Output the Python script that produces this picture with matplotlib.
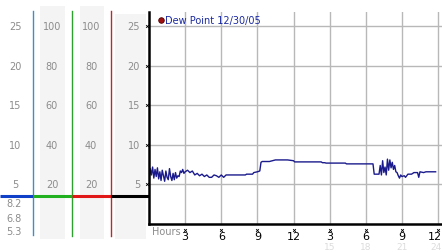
import matplotlib
matplotlib.use('Agg')
import matplotlib.pyplot as plt
import matplotlib.transforms as mtransforms

# dew point trace (hours since midnight, deg)
hours = [0.0, 0.1, 0.2, 0.3, 0.4, 0.5, 0.6, 0.7, 0.8, 0.9, 1.0, 1.1, 1.2, 1.3, 1.4,
         1.5, 1.6, 1.7, 1.8, 1.9, 2.0, 2.1, 2.2, 2.3, 2.4, 2.5, 2.6, 2.7, 2.8, 2.9,
         3.0, 3.2, 3.4, 3.6, 3.8, 4.0, 4.2, 4.4, 4.6, 4.8, 5.0, 5.2, 5.4, 5.6, 5.8,
         6.0, 6.2, 6.4, 6.6, 8.0, 8.1, 8.6, 8.7, 9.0, 9.2, 9.3, 9.4, 10.0, 10.5,
         11.5, 12.0, 12.1, 14.3, 14.4, 14.6, 14.7, 16.3, 16.4, 18.6, 18.7, 19.1,
         19.2, 19.3, 19.4, 19.5, 19.6, 19.7, 19.8, 19.9, 20.0, 20.1, 20.2, 20.3,
         20.4, 20.5, 20.6, 20.7, 20.8, 20.9, 21.0, 21.2, 21.3, 21.5, 21.8, 22.0,
         22.3, 22.4, 22.5, 22.8, 23.0, 23.8]
dew = [5.6, 7.0, 6.2, 7.2, 5.8, 6.9, 6.0, 7.1, 5.7, 6.6, 5.5, 6.8, 6.1, 5.4, 6.7,
       5.9, 5.6, 7.0, 6.0, 5.5, 6.4, 5.6, 6.5, 5.8, 6.1, 6.0, 6.7, 6.5, 6.9, 6.4,
       6.6, 6.8, 6.5, 6.7, 6.2, 6.4, 6.1, 6.3, 6.0, 6.2, 5.9, 5.9, 6.2, 6.1, 5.9,
       6.2, 5.9, 6.2, 6.2, 6.2, 6.3, 6.3, 6.5, 6.6, 6.7, 7.8, 7.9, 7.9, 8.1,
       8.1, 8.0, 7.85, 7.85, 7.75, 7.75, 7.7, 7.7, 7.6, 7.6, 6.3, 6.3,
       7.4, 6.2, 8.0, 6.5, 7.2, 6.2, 8.2, 6.8, 8.1, 7.1, 7.8, 6.9,
       7.4, 6.6, 6.5, 6.1, 5.8, 6.2, 6.0, 6.1, 5.9, 6.3, 6.3, 6.5,
       6.5, 5.9, 6.6, 6.5, 6.6, 6.6]

xticks = [3, 6, 9, 12, 15, 18, 21, 24]
xlabels = ['3', '6', '9', '12', '3', '6', '9', '12']
faint = ['15', '18', '21', '24']
yticks = [5, 10, 15, 20, 25]
rh_labels = ['20', '40', '60', '80', '100']
low_labels = ['8.2', '6.8', '5.3']

W, H = 442, 253
fig = plt.figure(figsize=(W / 100, H / 100), dpi=100)

# background panel in pixel coords
bg = fig.add_axes([0, 0, 1, 1], zorder=0)
bg.set_xlim(0, W)
bg.set_ylim(H, 0)
bg.axis('off')

ax = fig.add_axes([149 / W, (H - 225) / H, (W - 149) / W, (225 - 13) / H], zorder=1)
xmax = 24.33
ax.set_xlim(0, xmax)
ax.set_ylim(0, 26.8)

def ypx(v):
    return 225 - v * 7.92

grey = '#8c8c8c'
# shaded columns
for x0, x1, y0 in [(40, 65, 7), (80, 104, 7), (115, 146, 15)]:
    bg.fill_between([x0, x1], y0, 240, color='#f4f4f4', lw=0)

# vertical coloured lines
bg.plot([33, 33], [12, 236], color='#3a8fd0', lw=1)
bg.plot([72, 72], [12, 237], color='#2ea02e', lw=1)
bg.plot([111, 111], [12, 237], color='#c02828', lw=1)

# horizontal thick lines
yl = 197
bg.plot([0, 33], [yl, yl], color='#1040c8', lw=2.2, solid_capstyle='butt')
bg.plot([33, 72], [yl, yl], color='#20b020', lw=2.2, solid_capstyle='butt')
bg.plot([72, 111], [yl, yl], color='#e01818', lw=2.2, solid_capstyle='butt')
bg.plot([111, 149], [yl, yl], color='black', lw=2.2, solid_capstyle='butt')

for v, rh in zip(yticks, rh_labels):
    y = ypx(v)
    bg.text(15, y, str(v), color=grey, fontsize=7, ha='center', va='center')
    bg.text(52, y, rh, color=grey, fontsize=7, ha='center', va='center')
    bg.text(91, y, rh, color=grey, fontsize=7, ha='center', va='center')
    bg.text(140, y, str(v), color=grey, fontsize=7, ha='right', va='center')

for y, s in zip([204, 219, 232], low_labels):
    bg.text(14, y, s, color=grey, fontsize=7, ha='center', va='center')

# main plot
ax.plot(hours, dew, color='#1a1a8c', lw=1)
ax.set_xticks(xticks)
ax.set_yticks(yticks)
ax.set_xticklabels([])
ax.set_yticklabels([])
ax.tick_params(length=0)
ax.grid(True, color='#b8b8b8', lw=1)
ax.set_axisbelow(True)
for s in ['top', 'right']:
    ax.spines[s].set_visible(False)
ax.spines['left'].set_linewidth(1.8)
ax.spines['bottom'].set_linewidth(1.8)

# small x tick glyphs
ax.plot([-0.15] * len(yticks), yticks, 'x', color='black', ms=2, mew=0.6, clip_on=False)
tr = mtransforms.blended_transform_factory(ax.transData, bg.transData)
ax.plot(xticks, [231] * len(xticks), 'x', color='black', ms=2, mew=0.6,
        clip_on=False, transform=tr)
for x, s in zip(xticks, xlabels):
    if x == xticks[-1]:
        ax.text(xmax, 237.5, s, transform=tr, fontsize=8, ha='right', va='center')
    else:
        ax.text(x, 237.5, s, transform=tr, fontsize=8, ha='center', va='center', clip_on=False)
for x, s in zip(xticks[4:], faint):
    if x == xticks[-1]:
        ax.text(xmax, 247.5, s, transform=tr, color='#dcdcdc', fontsize=6.5,
                ha='right', va='center')
    else:
        ax.text(x, 247.5, s, transform=tr, color='#dcdcdc', fontsize=6.5, ha='center',
                va='center', clip_on=False)
ax.text(166, 232, 'Hours', transform=bg.transData, color=grey, fontsize=7,
        ha='center', va='center', clip_on=False)

# legend
ax.plot([161], [21], 'o', color='#a01010', mec='#500000', ms=4, mew=0.6,
        transform=bg.transData, clip_on=False)
ax.text(165, 21, 'Dew Point 12/30/05', transform=bg.transData, color='#1a2aa0',
        fontsize=7, ha='left', va='center')

fig.savefig('out.png', dpi=100)
